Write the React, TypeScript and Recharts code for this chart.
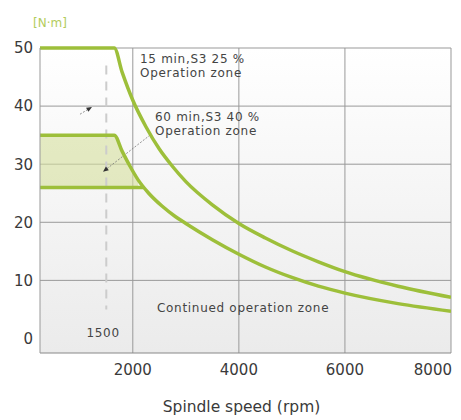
import {
  ComposedChart, Line, Area, XAxis, YAxis, CartesianGrid, ReferenceLine, ReferenceDot
} from 'recharts'

// Spindle torque curves
const rpm15min = [250, 1650, 1800, 2000, 2250, 2500, 2750, 3000, 3500, 4000, 4500, 5000, 5500, 6000, 7000, 8000]
const torque15min = [50, 50, 45.8, 41, 36.4, 32.6, 29.6, 27, 23, 19.8, 17.3, 15.1, 13.2, 11.5, 9.0, 7.1]

const rpm60min = [250, 1650, 1800, 1950, 2100, 2300, 2550, 2800, 3000, 3500, 4000, 4500, 5000, 5500, 6000, 7000, 8000]
const torque60min = [35, 35, 32.2, 29.6, 27.3, 25, 22.8, 21, 19.8, 17, 14.5, 12.3, 10.5, 9, 7.8, 6.0, 4.7]

const rpmS1 = [250, 2200]
const torqueS1 = [26, 26]

const rpmTicks = [2000, 4000, 6000, 8000]
const torqueTicks = [0, 10, 20, 30, 40, 50]
const rpmDomain = [250, 8000]
const torqueDomain = [-2.5, 50]
const markRpm = 1500

const notes = [
  { rpm: 2136, torque: 47.5, lines: ['15 min,S3 25 %', 'Operation zone'], anchor: 'start' },
  { rpm: 2419, torque: 37.4, lines: ['60 min,S3 40 %', 'Operation zone'], anchor: 'start' },
  { rpm: 2456, torque: 4.6, lines: ['Continued operation zone'], anchor: 'start' },
  { rpm: 1440, torque: 0.3, lines: ['1500'], anchor: 'middle' },
]

const arrows = [
  { from: [1004, 38.6], to: [1230, 39.85] },
  { from: [2324, 35.0], to: [1438, 28.7] },
]

const GREEN = '#9dbf3a'
const TEXT = '#3a3a3a'
const GRID = '#999'

const toPoints = (xs: number[], ys: number[]) => xs.map((rpm, i) => ({ rpm, torque: ys[i] }))

const data15 = toPoints(rpm15min, torque15min)
const data60 = toPoints(rpm60min, torque60min)
const dataS1 = toPoints(rpmS1, torqueS1)
// shaded band between continuous line and the 60 min curve
const shade = rpm60min
  .map((rpm, i) => ({ rpm, band: [torqueS1[0], torque60min[i]] }))
  .filter(d => d.band[1] >= torqueS1[0])

function noteLabel(lines: string[], anchor: string) {
  return {
    content: (p: any) => {
      const { x, y } = p.viewBox
      return (
        <text x={x} y={y} textAnchor={anchor} fontSize={12} letterSpacing={0.7} fill="#444">
          {lines.map((l, i) => (
            <tspan key={i} x={x} dy={i === 0 ? 0 : 14}>{l}</tspan>
          ))}
        </text>
      )
    },
  }
}

const arrowShape = (p: any) => {
  const { x1, y1, x2, y2 } = p
  const a = Math.atan2(y2 - y1, x2 - x1)
  const s = 6
  const pts = [
    [x2, y2],
    [x2 - s * Math.cos(a - 0.4), y2 - s * Math.sin(a - 0.4)],
    [x2 - s * Math.cos(a + 0.4), y2 - s * Math.sin(a + 0.4)],
  ].map(q => q.join(',')).join(' ')
  return (
    <g>
      <line x1={x1} y1={y1} x2={x2} y2={y2} stroke="#777" strokeWidth={0.8} strokeDasharray="2 1.5" />
      <polygon points={pts} fill="#333" />
    </g>
  )
}

const XTick = (p: any) => {
  const last = p.payload.value === rpmTicks[rpmTicks.length - 1]
  return (
    <text x={last ? p.x + 7 : p.x} y={p.y} dy={11} textAnchor={last ? 'end' : 'middle'} fontSize={15} fill={TEXT}>
      {p.payload.value}
    </text>
  )
}

export default function App() {
  return (
    <div style={{ position: 'absolute', left: 0, top: 0, fontFamily: '"DejaVu Sans", sans-serif', background: '#fff' }}>
      <ComposedChart width={461} height={420} margin={{ top: 48, right: 10, bottom: 37, left: 0 }}>
        <defs>
          <linearGradient id="plotBg" x1="0" y1="0" x2="0" y2="1">
            <stop offset="0%" stopColor="#ffffff" />
            <stop offset="100%" stopColor="#ebebeb" />
          </linearGradient>
        </defs>
        <CartesianGrid
          fill="url(#plotBg)"
          stroke={GRID}
          horizontalValues={[10, 20, 30, 40, 50]}
          verticalValues={rpmTicks}
        />
        <XAxis
          type="number"
          dataKey="rpm"
          domain={rpmDomain}
          ticks={rpmTicks}
          allowDataOverflow
          height={30}
          tickLine={false}
          tickMargin={5}
          axisLine={{ stroke: '#888' }}
          tick={<XTick />}
          label={{
            content: (p: any) => (
              <text x={p.viewBox.x + p.viewBox.width / 2 - 4} y={p.viewBox.y + 59} textAnchor="middle" fontSize={15.5} fill={TEXT}>
                Spindle speed (rpm)
              </text>
            ),
          }}
        />
        <YAxis
          type="number"
          domain={torqueDomain}
          ticks={torqueTicks}
          width={40}
          tickLine={false}
          tickMargin={1}
          axisLine={{ stroke: GRID }}
          tick={{ fontSize: 15, fill: TEXT }}
          label={{
            content: (p: any) => (
              <text x={p.viewBox.x + p.viewBox.width + 10} y={p.viewBox.y - 21} textAnchor="middle" fontSize={12} fill="#b3cc5c">
                [N·m]
              </text>
            ),
          }}
        />
        <Area
          data={shade}
          dataKey="band"
          type="monotone"
          stroke="none"
          fill="#d6df9c"
          fillOpacity={0.6}
          isAnimationActive={false}
        />
        <ReferenceLine
          segment={[{ x: markRpm, y: 47 }, { x: markRpm, y: 5 }]}
          stroke="#cccccc"
          strokeWidth={2}
          strokeDasharray="9 7"
        />
        {arrows.map((a, i) => (
          <ReferenceLine
            key={i}
            segment={[{ x: a.from[0], y: a.from[1] }, { x: a.to[0], y: a.to[1] }]}
            shape={arrowShape}
          />
        ))}
        <Line data={data15} dataKey="torque" type="monotone" stroke={GREEN} strokeWidth={3.5} dot={false} isAnimationActive={false} />
        <Line data={data60} dataKey="torque" type="monotone" stroke={GREEN} strokeWidth={3.5} dot={false} isAnimationActive={false} />
        <Line data={dataS1} dataKey="torque" type="linear" stroke={GREEN} strokeWidth={3.5} dot={false} isAnimationActive={false} />
        {notes.map((n, i) => (
          <ReferenceDot key={i} x={n.rpm} y={n.torque} r={0} fill="none" stroke="none" label={noteLabel(n.lines, n.anchor)} />
        ))}
      </ComposedChart>
    </div>
  )
}
